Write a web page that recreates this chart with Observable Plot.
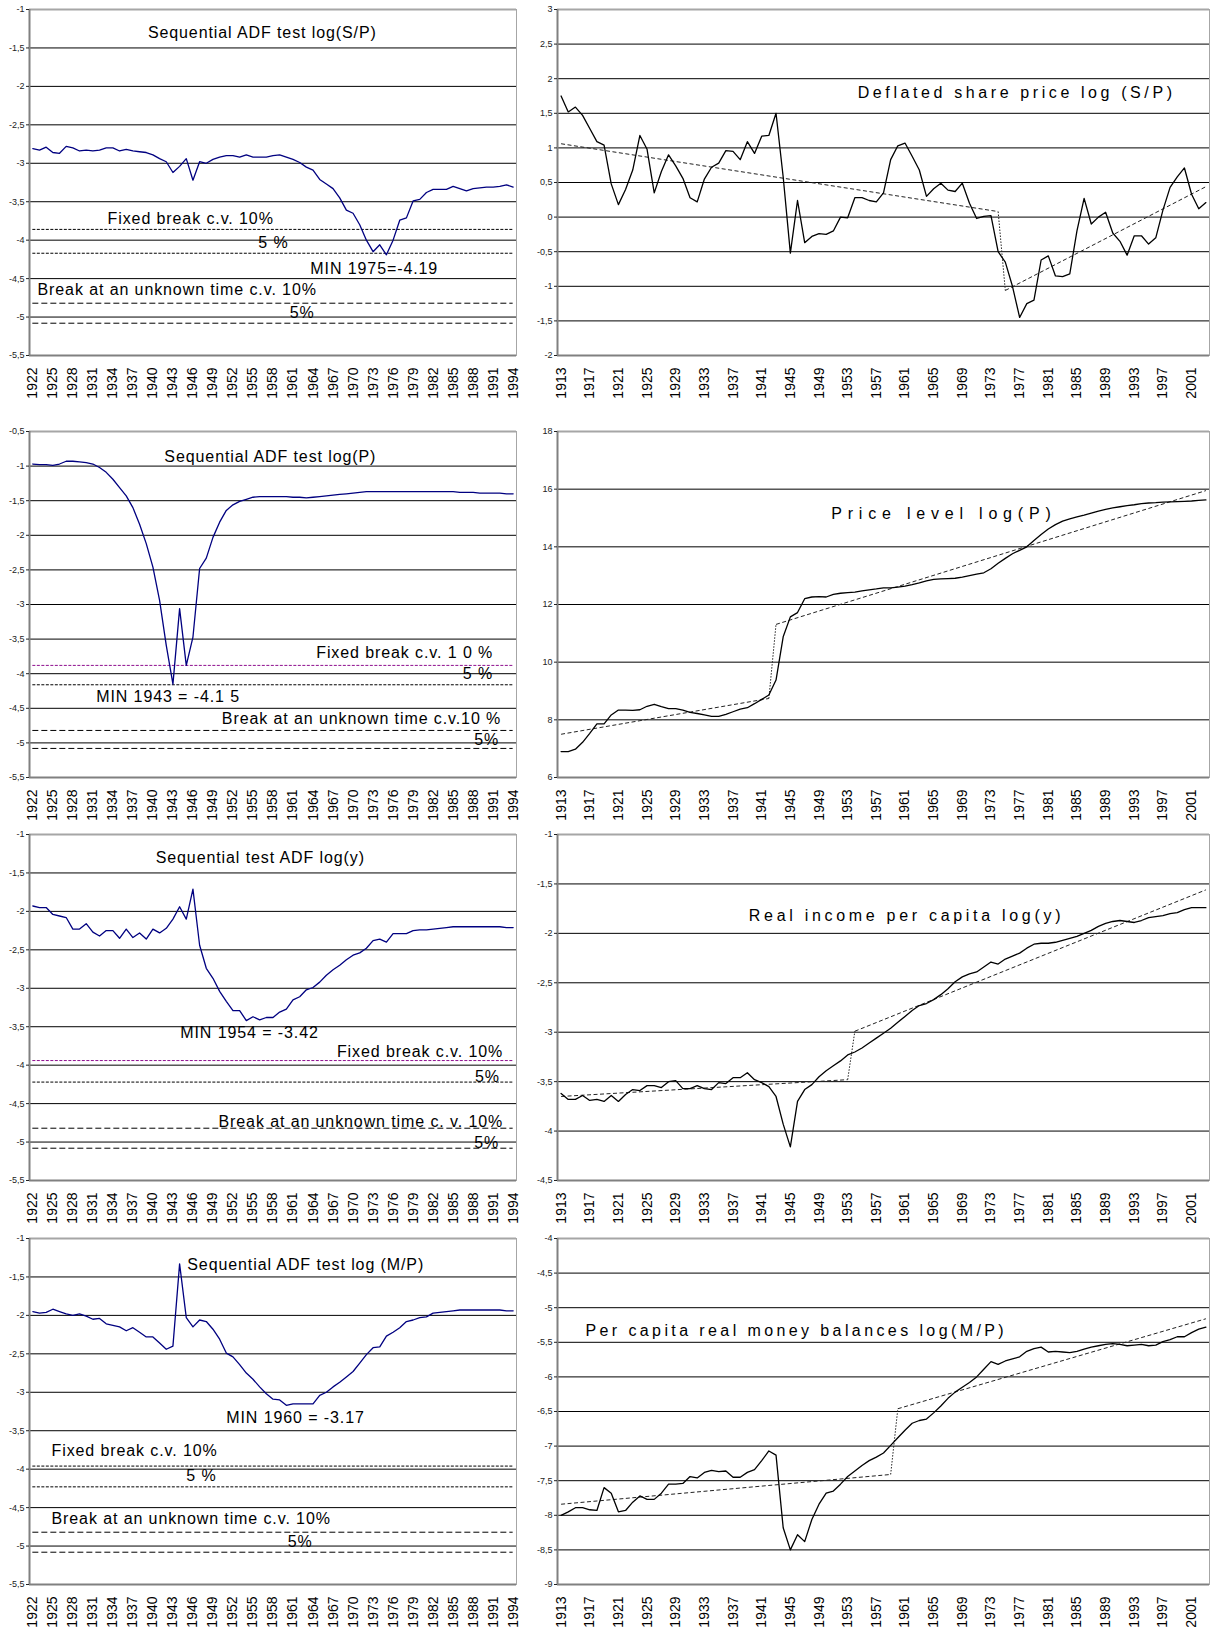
<!DOCTYPE html>
<html>
<head>
<meta charset="utf-8">
<script src="https://cdn.jsdelivr.net/npm/d3@7"></script>
<script src="https://cdn.jsdelivr.net/npm/@observablehq/plot@0.6"></script>
<style>
  body { margin: 0; background: #fff; }
  #page { position: relative; width: 1215px; height: 1630px; background: #fff; overflow: hidden; }
  #page svg { position: absolute; }
</style>
</head>
<body>
<div id="page"></div>
<script>
// ---- categories -------------------------------------------------------
const adfYears = d3.range(1922, 1995);      // sequential test break dates
const seriesYears = d3.range(1913, 2004);   // annual observations
const adfTicks = [1922, 1925, 1928, 1931, 1934, 1937, 1940, 1943, 1946, 1949, 1952, 1955, 1958,
                  1961, 1964, 1967, 1970, 1973, 1976, 1979, 1982, 1985, 1988, 1991, 1994];
const seriesTicks = [1913, 1917, 1921, 1925, 1929, 1933, 1937, 1941, 1945, 1949, 1953, 1957,
                     1961, 1965, 1969, 1973, 1977, 1981, 1985, 1989, 1993, 1997, 2001];

// ---- y tick values ----------------------------------------------------
const ticksAdfSP = [-5.5, -5, -4.5, -4, -3.5, -3, -2.5, -2, -1.5, -1];
const ticksAdfP = [-5.5, -5, -4.5, -4, -3.5, -3, -2.5, -2, -1.5, -1, -0.5];
const ticksAdfY = [-5.5, -5, -4.5, -4, -3.5, -3, -2.5, -2, -1.5, -1];
const ticksAdfMP = [-5.5, -5, -4.5, -4, -3.5, -3, -2.5, -2, -1.5, -1];
const ticksSP = [-2, -1.5, -1, -0.5, 0, 0.5, 1, 1.5, 2, 2.5, 3];
const ticksP = [6, 8, 10, 12, 14, 16, 18];
const ticksY = [-4.5, -4, -3.5, -3, -2.5, -2, -1.5, -1];
const ticksMP = [-9, -8.5, -8, -7.5, -7, -6.5, -6, -5.5, -5, -4.5, -4];

// ---- sequential ADF statistics, 1922-1994 -----------------------------
const adfSP = [
  -2.81, -2.83, -2.79, -2.86, -2.87, -2.78, -2.80, -2.84, -2.83, -2.84,
  -2.83, -2.80, -2.80, -2.84, -2.82, -2.84, -2.85, -2.86, -2.89, -2.94,
  -2.98, -3.12, -3.04, -2.94, -3.22, -2.98, -3.00, -2.95, -2.92, -2.90,
  -2.90, -2.92, -2.89, -2.92, -2.92, -2.92, -2.90, -2.89, -2.92, -2.95,
  -2.99, -3.05, -3.09, -3.21, -3.27, -3.33, -3.45, -3.61, -3.65, -3.80,
  -4.00, -4.15, -4.06, -4.19, -4.00, -3.74, -3.71, -3.49, -3.47, -3.38,
  -3.34, -3.34, -3.34, -3.30, -3.33, -3.36, -3.33, -3.32, -3.31, -3.31,
  -3.30, -3.28, -3.31
];
const adfP = [
  -0.97, -0.98, -0.98, -0.99, -0.97, -0.93, -0.93, -0.94, -0.95, -0.97,
  -1.02, -1.09, -1.19, -1.31, -1.43, -1.60, -1.84, -2.12, -2.46, -2.94,
  -3.59, -4.15, -3.06, -3.88, -3.47, -2.48, -2.33, -2.03, -1.81, -1.64,
  -1.56, -1.51, -1.48, -1.45, -1.44, -1.44, -1.44, -1.44, -1.44, -1.45,
  -1.45, -1.46, -1.45, -1.44, -1.43, -1.42, -1.41, -1.40, -1.39, -1.38,
  -1.37, -1.37, -1.37, -1.37, -1.37, -1.37, -1.37, -1.37, -1.37, -1.37,
  -1.37, -1.37, -1.37, -1.37, -1.38, -1.38, -1.38, -1.39, -1.39, -1.39,
  -1.39, -1.40, -1.40
];
const adfY = [
  -1.93, -1.95, -1.95, -2.04, -2.06, -2.08, -2.23, -2.23, -2.16, -2.27,
  -2.32, -2.25, -2.25, -2.35, -2.23, -2.34, -2.28, -2.36, -2.23, -2.28,
  -2.22, -2.10, -1.94, -2.10, -1.71, -2.44, -2.74, -2.87, -3.04, -3.17,
  -3.29, -3.29, -3.42, -3.37, -3.41, -3.38, -3.38, -3.31, -3.27, -3.15,
  -3.11, -3.02, -2.99, -2.92, -2.83, -2.76, -2.70, -2.63, -2.57, -2.54,
  -2.48, -2.38, -2.36, -2.40, -2.29, -2.29, -2.29, -2.25, -2.24, -2.24,
  -2.23, -2.22, -2.21, -2.20, -2.20, -2.20, -2.20, -2.20, -2.20, -2.20,
  -2.20, -2.21, -2.21
];
const adfMP = [
  -1.95, -1.97, -1.96, -1.92, -1.95, -1.98, -2.00, -1.98, -2.01, -2.05,
  -2.04, -2.11, -2.13, -2.15, -2.20, -2.16, -2.22, -2.28, -2.28, -2.36,
  -2.44, -2.40, -1.33, -2.03, -2.15, -2.06, -2.08, -2.18, -2.31, -2.49,
  -2.54, -2.64, -2.75, -2.83, -2.93, -3.02, -3.09, -3.10, -3.17, -3.15,
  -3.15, -3.15, -3.15, -3.04, -3.00, -2.93, -2.87, -2.80, -2.73, -2.62,
  -2.51, -2.42, -2.41, -2.27, -2.22, -2.16, -2.08, -2.06, -2.03, -2.02,
  -1.97, -1.96, -1.95, -1.94, -1.93, -1.93, -1.93, -1.93, -1.93, -1.93,
  -1.93, -1.94, -1.94
];

// critical values: fixed break 10%, 5%; break at an unknown time 10%, 5%
const cvSP = [-3.86, -4.17, -4.82, -5.08];
const cvP = [-3.88, -4.16, -4.82, -5.08];
const cvY = [-3.94, -4.22, -4.82, -5.08];
const cvMP = [-3.96, -4.23, -4.82, -5.08];

// ---- annual series, 1913-2003 -----------------------------------------
const logSP = [
  1.75, 1.52, 1.59, 1.47, 1.28, 1.09, 1.04, 0.48, 0.18, 0.40,
  0.68, 1.18, 0.98, 0.35, 0.66, 0.90, 0.74, 0.56, 0.28, 0.22,
  0.55, 0.72, 0.78, 0.96, 0.95, 0.83, 1.09, 0.92, 1.17, 1.18,
  1.50, 0.58, -0.52, 0.24, -0.37, -0.28, -0.24, -0.25, -0.20, 0.00,
  -0.01, 0.28, 0.28, 0.24, 0.22, 0.35, 0.83, 1.03, 1.07, 0.88,
  0.68, 0.30, 0.41, 0.49, 0.39, 0.37, 0.49, 0.20, -0.02, 0.01,
  0.02, -0.50, -0.65, -1.00, -1.45, -1.25, -1.20, -0.62, -0.56, -0.85,
  -0.86, -0.82, -0.20, 0.27, -0.10, 0.00, 0.07, -0.23, -0.35, -0.55,
  -0.27, -0.27, -0.39, -0.30, 0.10, 0.43, 0.58, 0.71, 0.33, 0.12,
  0.21
];
const logP = [
  6.90, 6.90, 6.98, 7.22, 7.53, 7.86, 7.86, 8.17, 8.34, 8.34,
  8.33, 8.35, 8.47, 8.54, 8.46, 8.39, 8.39, 8.34, 8.26, 8.22,
  8.17, 8.12, 8.12, 8.19, 8.28, 8.37, 8.42, 8.56, 8.71, 8.86,
  9.38, 10.88, 11.57, 11.72, 12.20, 12.26, 12.27, 12.26, 12.35, 12.39,
  12.41, 12.43, 12.47, 12.51, 12.54, 12.58, 12.58, 12.60, 12.64, 12.69,
  12.75, 12.82, 12.87, 12.89, 12.90, 12.91, 12.95, 13.00, 13.05, 13.10,
  13.24, 13.43, 13.60, 13.76, 13.88, 14.00, 14.22, 14.43, 14.62, 14.77,
  14.89, 14.97, 15.04, 15.10, 15.17, 15.24, 15.30, 15.35, 15.39, 15.43,
  15.46, 15.50, 15.52, 15.53, 15.55, 15.56, 15.57, 15.58, 15.59, 15.61,
  15.63
];
const logY = [
  -3.62, -3.68, -3.68, -3.64, -3.69, -3.68, -3.70, -3.64, -3.70, -3.63,
  -3.58, -3.59, -3.54, -3.54, -3.56, -3.50, -3.49, -3.57, -3.57, -3.54,
  -3.57, -3.58, -3.51, -3.52, -3.46, -3.46, -3.41, -3.48, -3.51, -3.55,
  -3.65, -3.93, -4.16, -3.70, -3.58, -3.53, -3.45, -3.39, -3.34, -3.29,
  -3.23, -3.20, -3.16, -3.11, -3.06, -3.01, -2.96, -2.90, -2.84, -2.78,
  -2.73, -2.71, -2.67, -2.62, -2.56, -2.49, -2.44, -2.41, -2.39, -2.34,
  -2.29, -2.31, -2.26, -2.23, -2.20, -2.15, -2.11, -2.10, -2.10, -2.09,
  -2.07, -2.05, -2.03, -2.00, -1.97, -1.93, -1.90, -1.88, -1.87, -1.88,
  -1.89, -1.87, -1.84, -1.83, -1.82, -1.80, -1.79, -1.76, -1.74, -1.74,
  -1.74
];
const logMP = [
  -8.00, -7.95, -7.89, -7.89, -7.92, -7.93, -7.60, -7.68, -7.95, -7.93,
  -7.81, -7.72, -7.77, -7.77, -7.68, -7.55, -7.55, -7.54, -7.44, -7.46,
  -7.38, -7.35, -7.37, -7.36, -7.45, -7.45, -7.38, -7.34, -7.21, -7.07,
  -7.13, -8.18, -8.50, -8.28, -8.38, -8.06, -7.84, -7.68, -7.65, -7.55,
  -7.44, -7.36, -7.28, -7.21, -7.16, -7.10, -6.99, -6.88, -6.77, -6.67,
  -6.63, -6.61, -6.52, -6.42, -6.31, -6.22, -6.15, -6.08, -6.00, -5.89,
  -5.78, -5.82, -5.77, -5.74, -5.71, -5.63, -5.59, -5.57, -5.64, -5.63,
  -5.64, -5.65, -5.63, -5.60, -5.57, -5.55, -5.53, -5.52, -5.53, -5.55,
  -5.54, -5.53, -5.55, -5.54, -5.49, -5.46, -5.42, -5.42, -5.36, -5.31,
  -5.28
];

// broken linear trends: start, end before break, start after break, end
const trendSPYears = [1913, 1974, 1975, 2003];
const trendSP = [1.06, 0.08, -1.06, 0.44];
const trendPYears = [1913, 1942, 1943, 2003];
const trendP = [7.50, 8.74, 11.31, 15.95];
const trendYYears = [1913, 1953, 1954, 2003];
const trendY = [-3.65, -3.48, -2.99, -1.56];
const trendMPYears = [1913, 1959, 1960, 2003];
const trendMP = [-7.84, -7.41, -6.46, -5.16];

// ---- layout -----------------------------------------------------------
const FONT = "'Liberation Sans', Arial, Helvetica, sans-serif";
const ROW_TOPS = [9, 431, 834, 1238];
const PLOT_H = 346, MT = 10, MB = 46;
const LEFT = {left: 0, width: 520, marginLeft: 29, marginRight: 4};
const RIGHT = {left: 520, width: 695, marginLeft: 37, marginRight: 6};
const NOTE_SIZE = 16;
const comma = d => String(d).replace(".", ",");
const page = document.getElementById("page");

function frameMarks(years, ticks) {
  const yMin = d3.min(ticks), yMax = d3.max(ticks);
  return [
    Plot.frame({stroke: "#a6a6a6", strokeWidth: 1}),
    Plot.gridY(ticks.filter(t => t !== yMin && t !== yMax), {stroke: "#000", strokeOpacity: 1, strokeWidth: 1}),
    Plot.ruleY([yMax], {stroke: "#a6a6a6", strokeWidth: 2}),
    Plot.ruleX([years[0] - 0.5], {stroke: "#808080", strokeWidth: 2}),
    Plot.ruleY([yMin], {stroke: "#808080", strokeWidth: 2}),
    Plot.axisY({ticks, tickFormat: comma, tickSize: 3, tickPadding: 2, fontSize: 9, color: "#222", label: null}),
  ];
}

function xAxis(ticks) {
  return Plot.axisX({ticks, tickFormat: d => String(d), tickRotate: -90, tickSize: 0, tickPadding: 12,
                     fontSize: 14, color: "#000", label: null});
}

function noteMarks(notes) {
  return notes.map(n => Plot.text([n], {
    x: "x", y: "y", text: "text", textAnchor: n.anchor, lineAnchor: "middle",
    fontSize: NOTE_SIZE, fill: "#000"
  }));
}

// position a panel and space out its annotation lettering
function place(svg, col, row, spacing) {
  svg.style.left = col.left + "px";
  svg.style.top = (ROW_TOPS[row] - MT) + "px";
  d3.select(svg).selectAll('g[aria-label="text"] text').style("letter-spacing", spacing + "px");
  page.appendChild(svg);
}

// left column: sequential ADF statistic with critical value lines
function adfPanel(row, values, ticks, cv, fixedColor, notes) {
  const first = adfYears[0], last = adfYears[adfYears.length - 1];
  const svg = Plot.plot({
    width: LEFT.width, height: PLOT_H + MT + MB,
    marginTop: MT, marginBottom: MB, marginLeft: LEFT.marginLeft, marginRight: LEFT.marginRight,
    x: {type: "linear", domain: [first - 0.5, last + 0.5]},
    y: {domain: [d3.min(ticks), d3.max(ticks)]},
    style: {fontFamily: FONT, fontSize: "9px", background: "transparent", overflow: "visible"},
    marks: [
      ...frameMarks(adfYears, ticks),
      Plot.ruleY([cv[0]], {x1: first, x2: last, stroke: fixedColor, strokeWidth: 1, strokeDasharray: "3,1.5"}),
      Plot.ruleY([cv[1]], {x1: first, x2: last, stroke: "#000", strokeWidth: 1, strokeDasharray: "3,1.5"}),
      Plot.ruleY([cv[2]], {x1: first, x2: last, stroke: "#000", strokeWidth: 1, strokeDasharray: "6,3"}),
      Plot.ruleY([cv[3]], {x1: first, x2: last, stroke: "#000", strokeWidth: 1, strokeDasharray: "6,3"}),
      Plot.line(values, {x: (d, i) => adfYears[i], y: d => d, stroke: "#000080", strokeWidth: 1.3}),
      xAxis(adfTicks),
      ...noteMarks(notes)
    ]
  });
  place(svg, LEFT, row, 0.9);
}

// right column: annual series with broken trend
function seriesPanel(row, values, ticks, trendYears, trend, title, spacing) {
  const first = seriesYears[0], last = seriesYears[seriesYears.length - 1];
  const seg = (a, b) => [{x1: trendYears[a], y1: trend[a], x2: trendYears[b], y2: trend[b]}];
  const svg = Plot.plot({
    width: RIGHT.width, height: PLOT_H + MT + MB,
    marginTop: MT, marginBottom: MB, marginLeft: RIGHT.marginLeft, marginRight: RIGHT.marginRight,
    x: {type: "linear", domain: [first - 0.5, last + 0.5]},
    y: {domain: [d3.min(ticks), d3.max(ticks)]},
    style: {fontFamily: FONT, fontSize: "9px", background: "transparent", overflow: "visible"},
    marks: [
      ...frameMarks(seriesYears, ticks),
      Plot.link(seg(0, 1), {x1: "x1", y1: "y1", x2: "x2", y2: "y2", stroke: "#222", strokeWidth: 1, strokeDasharray: "4,2.5"}),
      Plot.link(seg(1, 2), {x1: "x1", y1: "y1", x2: "x2", y2: "y2", stroke: "#222", strokeWidth: 1, strokeDasharray: "1.5,1.5"}),
      Plot.link(seg(2, 3), {x1: "x1", y1: "y1", x2: "x2", y2: "y2", stroke: "#222", strokeWidth: 1, strokeDasharray: "4,2.5"}),
      Plot.line(values, {x: (d, i) => seriesYears[i], y: d => d, stroke: "#000", strokeWidth: 1.3}),
      xAxis(seriesTicks),
      ...noteMarks([title])
    ]
  });
  place(svg, RIGHT, row, spacing);
}

const FIXED_PURPLE = "#8e0f8e";

adfPanel(0, adfSP, ticksAdfSP, cvSP, "#000", [
  {text: "Sequential ADF test log(S/P)", x: 1956.4, y: -1.31, anchor: "middle"},
  {text: "Fixed break c.v. 10%", x: 1933.2, y: -3.72, anchor: "start"},
  {text: "5 %", x: 1955.8, y: -4.03, anchor: "start"},
  {text: "MIN 1975=-4.19", x: 1963.6, y: -4.37, anchor: "start"},
  {text: "Break at an unknown time c.v. 10%", x: 1922.7, y: -4.64, anchor: "start"},
  {text: "5%", x: 1960.5, y: -4.94, anchor: "start"}
]);
adfPanel(1, adfP, ticksAdfP, cvP, FIXED_PURPLE, [
  {text: "Sequential ADF test log(P)", x: 1957.6, y: -0.87, anchor: "middle"},
  {text: "Fixed break c.v. 1 0 %", x: 1991.0, y: -3.70, anchor: "end"},
  {text: "5 %", x: 1991.0, y: -4.00, anchor: "end"},
  {text: "MIN 1943 = -4.1 5", x: 1931.5, y: -4.33, anchor: "start"},
  {text: "Break at an unknown time c.v.10 %", x: 1992.2, y: -4.66, anchor: "end"},
  {text: "5%", x: 1991.9, y: -4.95, anchor: "end"}
]);
adfPanel(2, adfY, ticksAdfY, cvY, FIXED_PURPLE, [
  {text: "Sequential test ADF log(y)", x: 1956.1, y: -1.31, anchor: "middle"},
  {text: "MIN 1954 = -3.42", x: 1944.1, y: -3.58, anchor: "start"},
  {text: "Fixed break c.v. 10%", x: 1992.5, y: -3.83, anchor: "end"},
  {text: "5%", x: 1992.0, y: -4.15, anchor: "end"},
  {text: "Break at an unknown time c. v. 10%", x: 1992.5, y: -4.74, anchor: "end"},
  {text: "5%", x: 1991.9, y: -5.01, anchor: "end"}
]);
adfPanel(3, adfMP, ticksAdfMP, cvMP, "#000", [
  {text: "Sequential ADF test log (M/P)", x: 1962.9, y: -1.34, anchor: "middle"},
  {text: "MIN 1960 = -3.17", x: 1951.0, y: -3.33, anchor: "start"},
  {text: "Fixed break c.v. 10%", x: 1924.8, y: -3.76, anchor: "start"},
  {text: "5 %", x: 1945.0, y: -4.09, anchor: "start"},
  {text: "Break at an unknown time c.v. 10%", x: 1924.8, y: -4.65, anchor: "start"},
  {text: "5%", x: 1960.2, y: -4.94, anchor: "start"}
]);

seriesPanel(0, logSP, ticksSP, trendSPYears, trendSP,
  {text: "Deflated share price log (S/P)", x: 1954.4, y: 1.79, anchor: "start"}, 3.6);
seriesPanel(1, logP, ticksP, trendPYears, trendP,
  {text: "Price level log(P)", x: 1950.7, y: 15.13, anchor: "start"}, 5.8);
seriesPanel(2, logY, ticksY, trendYYears, trendY,
  {text: "Real income per capita log(y)", x: 1939.2, y: -1.82, anchor: "start"}, 3.7);
seriesPanel(3, logMP, ticksMP, trendMPYears, trendMP,
  {text: "Per capita real money balances log(M/P)", x: 1916.4, y: -5.33, anchor: "start"}, 3.4);
</script>
</body>
</html>
